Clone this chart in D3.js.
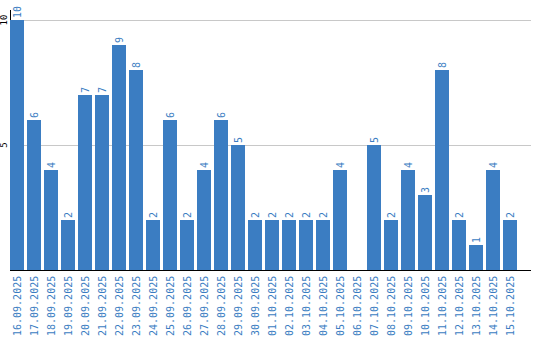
<!DOCTYPE html>
<html>
<head>
<meta charset="utf-8">
<script src="https://cdn.jsdelivr.net/npm/d3@7"></script>
<style>
  body { margin: 0; background: #fff; }
  svg { display: block; }
</style>
</head>
<body>
<svg id="chart" width="540" height="340"></svg>
<script>
const dates = [
  "16.09.2025", "17.09.2025", "18.09.2025", "19.09.2025", "20.09.2025",
  "21.09.2025", "22.09.2025", "23.09.2025", "24.09.2025", "25.09.2025",
  "26.09.2025", "27.09.2025", "28.09.2025", "29.09.2025", "30.09.2025",
  "01.10.2025", "02.10.2025", "03.10.2025", "04.10.2025", "05.10.2025",
  "06.10.2025", "07.10.2025", "08.10.2025", "09.10.2025", "10.10.2025",
  "11.10.2025", "12.10.2025", "13.10.2025", "14.10.2025", "15.10.2025"
];
const counts = [10, 6, 4, 2, 7, 7, 9, 8, 2, 6, 2, 4, 6, 5, 2, 2, 2, 2, 2, 4, 0, 5, 2, 4, 3, 8, 2, 1, 4, 2];
const yTicks = [5, 10];

const svg = d3.select("#chart");
const blue = "#3b7dc2";
const mono = "'DejaVu Sans Mono', monospace";

const rows = dates.map((d, i) => ({ date: d, value: counts[i] }));

const x = d3.scaleBand()
  .domain(dates)
  .range([10, 520])
  .paddingInner(3 / 17)
  .paddingOuter(3 / 34)
  .align(0);

const y = d3.scaleLinear().domain([0, 10]).range([270, 20]);

// gridlines
svg.append("g")
  .selectAll("line")
  .data(yTicks)
  .join("line")
  .attr("x1", 10)
  .attr("x2", 531)
  .attr("y1", d => y(d) + 0.5)
  .attr("y2", d => y(d) + 0.5)
  .attr("stroke", "#c8c8c8");

// y axis line
svg.append("line")
  .attr("x1", 10.5).attr("x2", 10.5)
  .attr("y1", 10).attr("y2", 270)
  .attr("stroke", "#000");

// y tick labels
svg.append("g")
  .selectAll("text")
  .data(yTicks)
  .join("text")
  .attr("transform", d => `translate(7,${y(d)}) rotate(-90)`)
  .attr("text-anchor", "middle")
  .attr("font-family", mono)
  .attr("font-size", 9)
  .attr("fill", "#000")
  .text(d => d);

// bars
svg.append("g")
  .selectAll("rect")
  .data(rows)
  .join("rect")
  .attr("x", d => x(d.date))
  .attr("y", d => y(d.value))
  .attr("width", x.bandwidth())
  .attr("height", d => y(0) - y(d.value))
  .attr("fill", blue);

// value labels
svg.append("g")
  .selectAll("text")
  .data(rows.filter(d => d.value > 0))
  .join("text")
  .attr("transform", d => `translate(${x(d.date) + x.bandwidth() / 2 + 4},${y(d.value) - 2}) rotate(-90)`)
  .attr("text-anchor", "start")
  .attr("font-family", mono)
  .attr("font-size", 10)
  .attr("fill", blue)
  .text(d => d.value);

// x axis line
svg.append("line")
  .attr("x1", 10).attr("x2", 531)
  .attr("y1", 270.5).attr("y2", 270.5)
  .attr("stroke", "#000");

// x labels
svg.append("g")
  .selectAll("text")
  .data(dates)
  .join("text")
  .attr("transform", d => `translate(${x(d) + x.bandwidth() / 2 + 4},336) rotate(-90)`)
  .attr("text-anchor", "start")
  .attr("font-family", mono)
  .attr("font-size", 10)
  .attr("fill", blue)
  .text(d => d);
</script>
</body>
</html>
